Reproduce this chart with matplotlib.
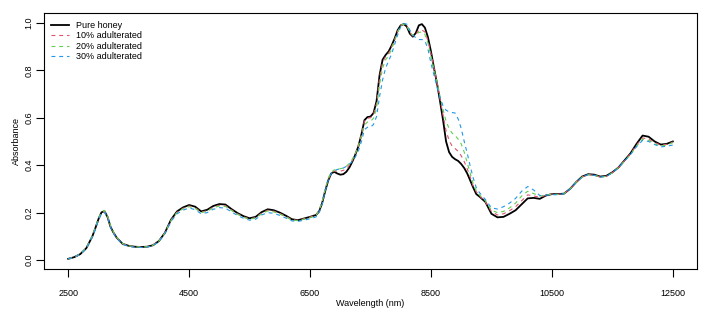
import numpy as np
import matplotlib
matplotlib.use("Agg")
import matplotlib.pyplot as plt

# wavelength grid: finer where the spectra change quickly
wavelength = np.concatenate([
    np.arange(2500, 2801, 100),
    [2900, 2950, 3000, 3050, 3100, 3150, 3200, 3250, 3300, 3400],
    np.arange(3500, 6601, 100),
    np.arange(6650, 9301, 50),
    np.arange(9400, 12501, 100),
])

pure = [
    0.005, 0.012, 0.025, 0.05,
    0.10, 0.135, 0.172, 0.201, 0.206, 0.182, 0.14, 0.115, 0.095, 0.068,
    0.06, 0.056, 0.055, 0.056, 0.062, 0.08, 0.115, 0.17, 0.205, 0.222,
    0.232, 0.225, 0.205, 0.212, 0.228, 0.236, 0.234, 0.215, 0.198, 0.185,
    0.176, 0.182, 0.202, 0.214, 0.21, 0.20, 0.187, 0.172, 0.168, 0.175,
    0.182, 0.19,
    0.205, 0.24, 0.29, 0.335, 0.365, 0.372, 0.365, 0.36, 0.362, 0.372,
    0.39, 0.415, 0.445, 0.48, 0.53, 0.59, 0.603, 0.605, 0.62, 0.67,
    0.78, 0.845, 0.865, 0.88, 0.905, 0.935, 0.97, 0.99, 0.995, 0.985,
    0.955, 0.942, 0.958, 0.99, 0.995, 0.98, 0.94, 0.88, 0.81, 0.745,
    0.67, 0.59, 0.50, 0.455, 0.435, 0.425, 0.418, 0.405, 0.388, 0.365,
    0.335, 0.305, 0.278, 0.268,
    0.245, 0.195, 0.18, 0.182, 0.195, 0.21, 0.235, 0.26, 0.262, 0.258,
    0.272, 0.278, 0.278, 0.28, 0.30, 0.328, 0.352, 0.362, 0.36, 0.352,
    0.355, 0.37, 0.39, 0.42, 0.45, 0.49, 0.525, 0.52, 0.50, 0.487,
    0.49, 0.50,
]
adult10 = [
    0.005, 0.012, 0.025, 0.05,
    0.10, 0.135, 0.172, 0.201, 0.206, 0.184, 0.142, 0.117, 0.096, 0.069,
    0.06, 0.056, 0.055, 0.056, 0.062, 0.08, 0.115, 0.168, 0.202, 0.218,
    0.228, 0.22, 0.202, 0.208, 0.223, 0.231, 0.229, 0.211, 0.195, 0.182,
    0.173, 0.179, 0.198, 0.21, 0.206, 0.196, 0.184, 0.17, 0.167, 0.174,
    0.181, 0.19,
    0.21, 0.245, 0.295, 0.34, 0.365, 0.375, 0.375, 0.375, 0.378, 0.385,
    0.40, 0.42, 0.45, 0.485, 0.53, 0.585, 0.598, 0.60, 0.615, 0.66,
    0.77, 0.835, 0.858, 0.872, 0.90, 0.93, 0.965, 0.99, 0.995, 0.99,
    0.96, 0.945, 0.952, 0.968, 0.97, 0.962, 0.925, 0.87, 0.81, 0.75,
    0.68, 0.61, 0.545, 0.505, 0.48, 0.47, 0.458, 0.44, 0.415, 0.385,
    0.35, 0.31, 0.288, 0.272,
    0.245, 0.205, 0.19, 0.195, 0.208, 0.225, 0.25, 0.275, 0.27, 0.265,
    0.273, 0.278, 0.277, 0.28, 0.30, 0.328, 0.35, 0.36, 0.358, 0.35,
    0.353, 0.368, 0.39, 0.418, 0.448, 0.485, 0.515, 0.51, 0.495, 0.485,
    0.488, 0.498,
]
adult20 = [
    0.005, 0.012, 0.026, 0.052,
    0.102, 0.138, 0.175, 0.204, 0.209, 0.187, 0.145, 0.118, 0.097, 0.069,
    0.06, 0.056, 0.055, 0.056, 0.062, 0.08, 0.114, 0.167, 0.20, 0.216,
    0.225, 0.218, 0.20, 0.206, 0.22, 0.228, 0.226, 0.209, 0.193, 0.18,
    0.172, 0.177, 0.195, 0.207, 0.203, 0.194, 0.182, 0.168, 0.166, 0.172,
    0.178, 0.188,
    0.21, 0.245, 0.30, 0.345, 0.37, 0.38, 0.383, 0.385, 0.388, 0.395,
    0.408, 0.425, 0.45, 0.48, 0.52, 0.57, 0.582, 0.585, 0.598, 0.64,
    0.74, 0.81, 0.845, 0.862, 0.89, 0.925, 0.96, 0.99, 0.995, 0.99,
    0.962, 0.947, 0.95, 0.96, 0.962, 0.952, 0.915, 0.86, 0.805, 0.75,
    0.69, 0.635, 0.585, 0.555, 0.535, 0.525, 0.51, 0.49, 0.455, 0.41,
    0.365, 0.32, 0.292, 0.275,
    0.25, 0.21, 0.20, 0.205, 0.22, 0.24, 0.27, 0.29, 0.28, 0.27,
    0.274, 0.278, 0.276, 0.28, 0.30, 0.328, 0.35, 0.36, 0.358, 0.35,
    0.353, 0.368, 0.39, 0.417, 0.445, 0.48, 0.51, 0.505, 0.49, 0.48,
    0.485, 0.495,
]
adult30 = [
    0.005, 0.012, 0.024, 0.048,
    0.097, 0.13, 0.167, 0.196, 0.201, 0.18, 0.138, 0.113, 0.093, 0.066,
    0.058, 0.054, 0.053, 0.054, 0.06, 0.077, 0.11, 0.162, 0.195, 0.21,
    0.22, 0.212, 0.195, 0.20, 0.214, 0.221, 0.219, 0.203, 0.188, 0.176,
    0.168, 0.172, 0.19, 0.20, 0.197, 0.188, 0.177, 0.165, 0.163, 0.168,
    0.174, 0.182,
    0.20, 0.235, 0.29, 0.335, 0.365, 0.375, 0.382, 0.385, 0.388, 0.395,
    0.405, 0.415, 0.435, 0.46, 0.50, 0.55, 0.56, 0.56, 0.572, 0.605,
    0.69, 0.76, 0.81, 0.84, 0.87, 0.91, 0.95, 0.985, 0.998, 0.995,
    0.97, 0.95, 0.937, 0.93, 0.93, 0.925, 0.89, 0.83, 0.78, 0.73,
    0.685, 0.65, 0.632, 0.625, 0.622, 0.62, 0.595, 0.555, 0.50, 0.45,
    0.395, 0.345, 0.305, 0.285,
    0.255, 0.22, 0.215, 0.225, 0.24, 0.26, 0.29, 0.31, 0.295, 0.272,
    0.273, 0.276, 0.275, 0.28, 0.30, 0.327, 0.35, 0.36, 0.357, 0.35,
    0.353, 0.368, 0.39, 0.417, 0.445, 0.478, 0.505, 0.50, 0.487, 0.477,
    0.48, 0.485,
]

labels = ["Pure honey", "10% adulterated", "20% adulterated", "30% adulterated"]
colors = ["black", "#DF536B", "#61D04F", "#2297E6"]
x_ticks = [2500, 4500, 6500, 8500, 10500, 12500]
y_ticks = [0.0, 0.2, 0.4, 0.6, 0.8, 1.0]


def main():
    plt.rcParams["font.family"] = ["Liberation Sans", "DejaVu Sans"]
    fig = plt.figure(figsize=(7.11, 3.13), dpi=100)
    ax = fig.add_axes([0.0619, 0.139, 0.9184, 0.818])

    series = [pure, adult10, adult20, adult30]
    for i, (vals, lab, col) in enumerate(zip(series, labels, colors)):
        if i == 0:
            ax.plot(wavelength, vals, color=col, lw=1.3, label=lab)
        else:
            ax.plot(wavelength, vals, color=col, lw=0.8, ls=(0, (3.5, 3.5)), label=lab)

    ax.set_xlim(2100, 12900)
    ax.set_ylim(-0.04, 1.04)
    ax.set_xticks(x_ticks)
    ax.set_xticklabels([str(t) for t in x_ticks], fontsize=6.5)
    ax.set_yticks(y_ticks)
    ax.set_yticklabels([f"{t:.1f}" for t in y_ticks], fontsize=6.5, rotation=90, va="center")
    ax.tick_params(axis="x", length=5.5, width=0.8, pad=8.5)
    ax.tick_params(axis="y", length=5.5, width=0.8, pad=2)
    for sp in ax.spines.values():
        sp.set_linewidth(0.8)
    ax.set_xlabel("Wavelength (nm)", fontsize=6.5, labelpad=0.5)
    ax.set_ylabel("Absorbance", fontsize=6.5, labelpad=2.5)

    ax.legend(loc="upper left", bbox_to_anchor=(0.0103, 0.97), frameon=False,
              fontsize=6.5, handlelength=2.0, handletextpad=0.85, labelspacing=0.15,
              borderpad=0, borderaxespad=0)

    fig.savefig("out.png", dpi=100)


if __name__ == "__main__":
    main()
